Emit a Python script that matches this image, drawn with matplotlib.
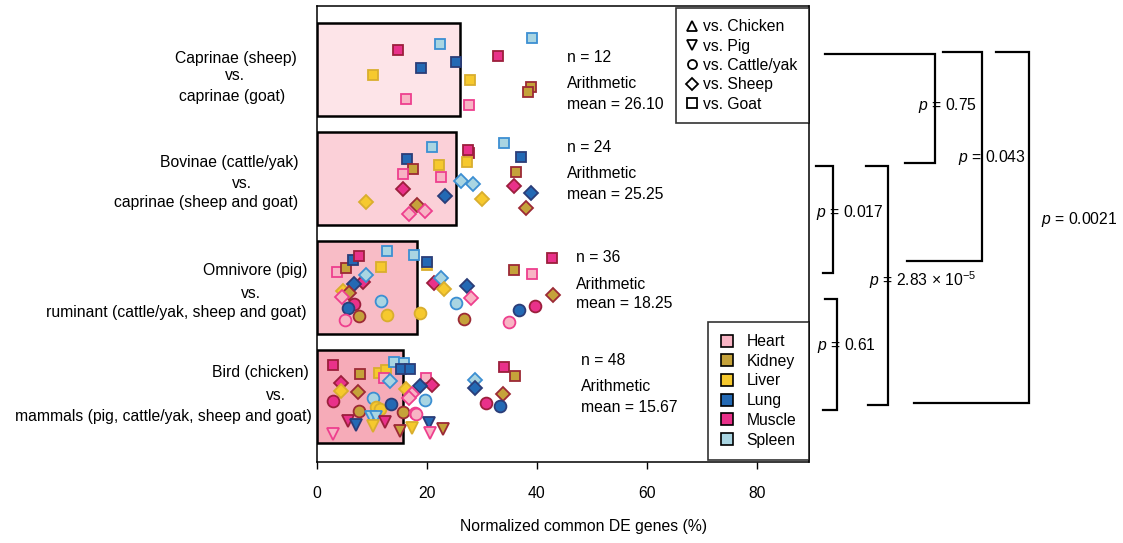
import matplotlib
matplotlib.use('Agg')
import matplotlib.pyplot as plt
from matplotlib.lines import Line2D
from matplotlib.patches import Patch
from matplotlib.transforms import blended_transform_factory

plt.rcParams['font.family'] = 'Liberation Sans'
plt.rcParams['mathtext.fontset'] = 'custom'
plt.rcParams['mathtext.rm'] = 'Liberation Sans'
plt.rcParams['mathtext.it'] = 'Liberation Sans:italic'
FS = 11.3

# group means and sample counts
means = [26.10, 25.25, 18.25, 15.67]
counts = [12, 24, 36, 48]
bar_colors = ['#fde4e8', '#fbd0d8', '#f8bcc6', '#f6abb8']

# per-comparison values: tissue, marker, value (%), vertical jitter
r1_tis = ['S', 'M', 'Lu', 'Lu', 'Li', 'H', 'Li', 'H', 'S', 'M', 'K', 'K']
r1_mk = ['s'] * 12
r1_val = [22.4, 14.7, 18.9, 25.3, 10.1, 16.2, 27.8, 27.6, 39.2, 32.9, 39.0, 38.4]
r1_dy = [-0.23, -0.18, -0.01, -0.07, 0.05, 0.27, 0.10, 0.33, -0.29, -0.12, 0.16, 0.21]

r2_tis = ['S', 'Lu', 'K', 'H', 'Li', 'H', 'M', 'Li', 'Lu', 'K', 'H', 'H',
          'M', 'M', 'Li', 'S', 'S', 'Li', 'S', 'Lu', 'K', 'M', 'Lu', 'K']
r2_mk = ['s', 's', 's', 's', 's', 's', 'D', 'D', 'D', 'D', 'D', 'D',
         's', 's', 's', 'D', 'D', 'D', 's', 's', 's', 'D', 'D', 'D']
r2_val = [20.9, 16.4, 17.4, 15.6, 22.2, 22.5, 15.7, 8.9, 23.2, 18.2, 16.8, 19.7,
          27.6, 27.5, 27.3, 26.2, 28.4, 30.1, 34.0, 37.1, 36.2, 35.9, 39.0, 38.1]
r2_dy = [-0.29, -0.18, -0.09, -0.04, -0.12, -0.01, 0.10, 0.22, 0.16, 0.24, 0.33, 0.30,
         -0.23, -0.26, -0.15, 0.02, 0.05, 0.19, -0.32, -0.20, -0.06, 0.07, 0.13, 0.27]

r3_tis = ['H', 'K', 'Lu', 'M', 'S', 'S', 'Li', 'Li', 'Lu', 'K', 'H', 'M',
          'M', 'S', 'Lu', 'Li', 'K', 'H', 'M', 'S', 'Li', 'Lu', 'H', 'K',
          'M', 'Lu', 'K', 'H', 'S', 'Li', 'Li', 'S', 'K', 'Lu', 'M', 'H']
r3_mk = ['s'] * 12 + ['D'] * 12 + ['o'] * 12
r3_val = [3.7, 5.2, 6.5, 7.6, 12.7, 17.7, 11.6, 20.1, 20.1, 35.8, 39.1, 42.8,
          8.4, 9.0, 6.7, 4.7, 5.9, 4.6, 21.3, 22.5, 23.1, 27.2, 28.1, 43.0,
          6.8, 5.6, 7.7, 5.1, 11.7, 12.8, 18.7, 25.3, 26.7, 36.7, 39.6, 35.0]
r3_dy = [-0.14, -0.18, -0.25, -0.29, -0.33, -0.30, -0.19, -0.21, -0.23, -0.16, -0.12, -0.27,
         -0.05, -0.11, -0.03, 0.03, 0.05, 0.09, -0.04, -0.09, 0.01, -0.01, 0.10, 0.07,
         0.15, 0.19, 0.26, 0.30, 0.12, 0.25, 0.23, 0.14, 0.29, 0.21, 0.17, 0.32]

r4_tis = ['M', 'K', 'Li', 'Li', 'H', 'S', 'S', 'Lu', 'Lu', 'H', 'M', 'K',
          'S', 'M', 'Li', 'K', 'M', 'Lu', 'Li', 'H', 'H', 'S', 'Lu', 'K',
          'M', 'K', 'S', 'Li', 'Li', 'Lu', 'S', 'K', 'H', 'H', 'M', 'Lu',
          'M', 'Lu', 'S', 'S', 'Li', 'M', 'H', 'K', 'Li', 'Lu', 'H', 'K']
r4_mk = ['s'] * 12 + ['D'] * 12 + ['o'] * 12 + ['v'] * 12
r4_val = [2.9, 7.9, 11.2, 12.5, 12.1, 14.0, 15.8, 15.3, 16.9, 19.8, 34.0, 36.1,
          13.2, 4.4, 4.4, 7.5, 20.9, 18.7, 16.1, 17.3, 16.8, 28.7, 28.7, 33.9,
          2.9, 7.6, 10.1, 10.7, 11.5, 13.5, 19.7, 15.6, 17.8, 18.1, 30.8, 33.2,
          5.6, 7.1, 9.9, 10.7, 10.2, 12.3, 3.0, 15.1, 17.2, 20.4, 20.6, 23.0]
r4_dy = [-0.29, -0.21, -0.22, -0.24, -0.17, -0.32, -0.31, -0.25, -0.25, -0.17, -0.27, -0.19,
         -0.14, -0.12, -0.05, -0.04, -0.11, -0.10, -0.07, -0.02, 0.01, -0.15, -0.08, -0.02,
         0.04, 0.13, 0.01, 0.10, 0.11, 0.07, 0.03, 0.14, 0.15, 0.16, 0.06, 0.09,
         0.22, 0.26, 0.19, 0.19, 0.27, 0.23, 0.34, 0.32, 0.29, 0.24, 0.33, 0.30]

rows = [(r1_tis, r1_mk, r1_val, r1_dy), (r2_tis, r2_mk, r2_val, r2_dy),
        (r3_tis, r3_mk, r3_val, r3_dy), (r4_tis, r4_mk, r4_val, r4_dy)]

tissues = ['Heart', 'Kidney', 'Liver', 'Lung', 'Muscle', 'Spleen']
codes = ['H', 'K', 'Li', 'Lu', 'M', 'S']
fills = ['#f8b4c4', '#c5a23a', '#f6c92e', '#2369b4', '#e9318a', '#a9d5e2']
edges = ['#ee3f8e', '#9c2a35', '#d9ae2e', '#2b3d78', '#9c1f3c', '#3c8fd2']
fill_of = dict(zip(codes, fills))
edge_of = dict(zip(codes, edges))
ms_of = {'s': 7, 'D': 7, 'o': 8.5, 'v': 9}

group_lines = [
    ['Caprinae (sheep)', 'vs.', 'caprinae (goat)'],
    ['Bovinae (cattle/yak)', 'vs.', 'caprinae (sheep and goat)'],
    ['Omnivore (pig)', 'vs.', 'ruminant (cattle/yak, sheep and goat)'],
    ['Bird (chicken)', 'vs.', 'mammals (pig, cattle/yak, sheep and goat)'],
]
# x centre (px) of each label line, y (px)
group_x = [[236, 235, 232], [229, 242, 206], [255, 251, 176], [260, 276, 163]]
group_y = [[58, 75, 97], [163, 183, 203], [270, 293, 313], [372, 395, 416]]

W, H = 1123, 543
fig = plt.figure(figsize=(W / 100, H / 100), dpi=100)
ax = fig.add_axes([317 / W, 1 - 462 / H, 492 / W, 456 / H])

ax.barh(range(4), means, height=0.85, color=bar_colors, edgecolor='black',
        linewidth=1.8, zorder=1)

for i, (tis, mk, val, dy) in enumerate(rows):
    for t, m, v, d in zip(tis, mk, val, dy):
        ax.plot(v, i + d, marker=m, ms=ms_of[m], mfc=fill_of[t], mec=edge_of[t],
                mew=1.3, ls='none', zorder=3)

ax.set_xlim(0, 89.5)
ax.set_ylim(3.6, -0.58)
ax.set_yticks([])
ax.set_xticks([0, 20, 40, 60, 80])
ax.tick_params(axis='x', length=5, width=1, pad=12, labelsize=FS)
for s in ax.spines.values():
    s.set_linewidth(1.1)
ax.set_xlabel('Normalized common DE genes (%)', fontsize=FS)
ax.xaxis.set_label_coords((583 - 317) / 492, -0.125)

# n and mean annotations
stat_x = [45.5, 45.5, 47.1, 48.0]
n_dy = [-0.11, -0.28, -0.27, -0.33]
a_dy = [0.13, -0.04, -0.03, -0.09]
m_dy = [0.32, 0.15, 0.15, 0.10]
for i in range(4):
    ax.text(stat_x[i], i + n_dy[i], f'n = {counts[i]}', fontsize=FS, va='center')
    ax.text(stat_x[i], i + a_dy[i], 'Arithmetic', fontsize=FS, va='center')
    ax.text(stat_x[i], i + m_dy[i], f'mean = {means[i]:.2f}', fontsize=FS,
            va='center')

for lines, xs, ys in zip(group_lines, group_x, group_y):
    for txt, x, y in zip(lines, xs, ys):
        fig.text(x / W, 1 - y / H, txt, ha='center', va='center', fontsize=FS)

# shape legend
shape_h = [Line2D([], [], marker=m, ls='none', mfc='white', mec='black',
                  mew=1.3, ms=6.5)
           for m in ['^', 'v', 'o', 'D', 's']]
leg1 = ax.legend(shape_h, ['vs. Chicken', 'vs. Pig', 'vs. Cattle/yak',
                           'vs. Sheep', 'vs. Goat'],
                 loc='upper right', bbox_to_anchor=(1.0, 0.996), fontsize=FS,
                 frameon=True, fancybox=False, edgecolor='black',
                 handlelength=0.6, handletextpad=0.4, labelspacing=0.28,
                 borderpad=0.72, borderaxespad=0)
leg1.get_frame().set_linewidth(1.2)
ax.add_artist(leg1)

tis_h = [Patch(facecolor=c, edgecolor='black', linewidth=1.2) for c in fills]
leg2 = ax.legend(tis_h, tissues, loc='lower right', bbox_to_anchor=(1.0, 0.004),
                 fontsize=FS, frameon=True, fancybox=False, edgecolor='black',
                 handlelength=0.8, handleheight=0.8, handletextpad=0.85,
                 labelspacing=0.3, borderpad=0.8, borderaxespad=0)
leg2.get_frame().set_linewidth(1.2)

# significance brackets: top y, bottom y (rows), top-left x, vertical x, bottom-left x (axes frac)
blend = blended_transform_factory(ax.transAxes, ax.transData)
br_top = [-0.14, -0.16, -0.16, 0.89, 0.89, 2.11]
br_bot = [0.86, 1.76, 3.06, 1.87, 3.08, 3.12]
br_x0 = [1.033, 1.272, 1.380, 1.014, 1.116, 1.033]
br_xv = [1.256, 1.352, 1.447, 1.049, 1.161, 1.057]
br_x1 = [1.195, 1.199, 1.213, 1.028, 1.120, 1.028]
for yt, yb, x0, xv, x1 in zip(br_top, br_bot, br_x0, br_xv, br_x1):
    ax.plot([x0, xv, xv, x1], [yt, yt, yb, yb], color='black', lw=1.6,
            transform=blend, clip_on=False, solid_joinstyle='miter')

p_txt = [r'$p$ = 0.75', r'$p$ = 0.043', r'$p$ = 0.0021', r'$p$ = 0.017',
         r'$p$ = 2.83 × 10$^{-5}$', r'$p$ = 0.61']
p_x = [1.222, 1.303, 1.472, 1.014, 1.122, 1.016]
p_y = [0.33, 0.81, 1.38, 1.31, 1.93, 2.53]
for t, x, y in zip(p_txt, p_x, p_y):
    ax.text(x, y, t, transform=blend, fontsize=FS, ha='left', va='center',
            clip_on=False)

fig.savefig('out.png', dpi=100)
